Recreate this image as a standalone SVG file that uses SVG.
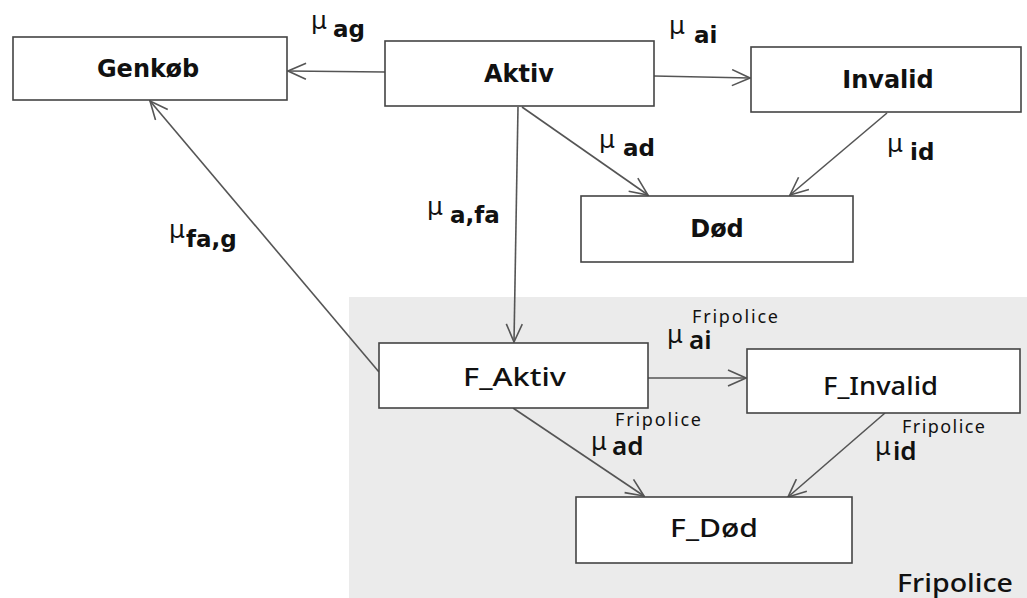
<svg xmlns="http://www.w3.org/2000/svg" width="1027" height="598" viewBox="0 0 1027 598">
<style>
.box{fill:#fff;stroke:#444;stroke-width:1.6}
.lbl{font-family:"DejaVu Sans",sans-serif;font-weight:bold;font-size:24px;fill:#111;text-anchor:middle}
.flbl{font-family:"Noto Sans",sans-serif;font-weight:500;font-size:25px;fill:#111}
.mu{font-family:"DejaVu Sans",sans-serif;font-size:25px;fill:#111}
.sub{font-family:"DejaVu Sans",sans-serif;font-weight:bold;font-size:23px;fill:#111}
.fmu{font-family:"Noto Sans",sans-serif;font-size:25px;fill:#111}
.fsub{font-family:"Noto Sans",sans-serif;font-weight:600;font-size:26px;fill:#111}
.fsup{font-family:"Noto Sans",sans-serif;font-size:18px;fill:#111}
.edge{stroke:#555;stroke-width:1.6;fill:none;marker-end:url(#arr)}
</style>
<defs>
<marker id="arr" markerUnits="userSpaceOnUse" viewBox="0 0 20 18" markerWidth="20" markerHeight="18" refX="19" refY="9" orient="auto">
<path d="M1,1 L19,9 L1,17" fill="none" stroke="#555" stroke-width="1.6"/>
</marker>
</defs>
<rect id="fripolice-region" x="349" y="297" width="678" height="301" fill="#ebebeb"/>
<text class="flbl" x="897" y="592" textLength="116" lengthAdjust="spacingAndGlyphs">Fripolice</text>

<g id="connectors">
<line class="edge" x1="385" y1="72" x2="288" y2="71"/>
<line class="edge" x1="654" y1="76" x2="750" y2="78"/>
<line class="edge" x1="522" y1="107" x2="648" y2="195"/>
<line class="edge" x1="887" y1="113" x2="790" y2="195"/>
<line class="edge" x1="518" y1="107" x2="514" y2="342"/>
<line class="edge" x1="379" y1="372" x2="150" y2="101"/>
<line class="edge" x1="648" y1="378" x2="746" y2="378"/>
<line class="edge" x1="513" y1="408" x2="644" y2="496"/>
<line class="edge" x1="885" y1="413" x2="788" y2="497"/>
</g>

<g id="labels">
<text x="311" y="29"><tspan class="mu">μ</tspan><tspan class="sub" x="333" y="37">ag</tspan></text>
<text x="669" y="34"><tspan class="mu">μ</tspan><tspan class="sub" x="694" y="43">ai</tspan></text>
<text x="599" y="148"><tspan class="mu">μ</tspan><tspan class="sub" x="623" y="156">ad</tspan></text>
<text x="887" y="152"><tspan class="mu">μ</tspan><tspan class="sub" x="910" y="160">id</tspan></text>
<text x="427" y="215"><tspan class="mu">μ</tspan><tspan class="sub" x="450" y="223">a,fa</tspan></text>
<text x="169" y="238"><tspan class="mu">μ</tspan><tspan class="sub" x="186" y="247">fa,g</tspan></text>
<text x="667" y="343"><tspan class="fmu">μ</tspan><tspan class="fsub" x="689" y="349">ai</tspan><tspan class="fsup" x="692" y="323" textLength="86">Fripolice</tspan></text>
<text x="591" y="450"><tspan class="fmu">μ</tspan><tspan class="fsub" x="612" y="455">ad</tspan><tspan class="fsup" x="615" y="426" textLength="86">Fripolice</tspan></text>
<text x="875" y="455"><tspan class="fmu">μ</tspan><tspan class="fsub" x="893" y="460">id</tspan><tspan class="fsup" x="902" y="433" textLength="83">Fripolice</tspan></text>
</g>

<g id="genkob"><rect class="box" x="13" y="37" width="274" height="63"/><text class="lbl" x="148" y="77">Genkøb</text></g>
<g id="aktiv"><rect class="box" x="385" y="41" width="269" height="65"/><text class="lbl" x="519" y="82">Aktiv</text></g>
<g id="invalid"><rect class="box" x="751" y="47" width="270" height="65"/><text class="lbl" x="888" y="88">Invalid</text></g>
<g id="dod"><rect class="box" x="581" y="196" width="272" height="66"/><text class="lbl" x="717" y="237">Død</text></g>
<g id="f_aktiv"><rect class="box" x="379" y="343" width="269" height="65"/><text class="flbl" x="463" y="386" textLength="103" lengthAdjust="spacingAndGlyphs">F_Aktiv</text></g>
<g id="f_invalid"><rect class="box" x="747" y="349" width="273" height="64"/><text class="flbl" x="823" y="395" textLength="115" lengthAdjust="spacingAndGlyphs">F_Invalid</text></g>
<g id="f_dod"><rect class="box" x="576" y="497" width="276" height="66"/><text class="flbl" x="670" y="537" textLength="88" lengthAdjust="spacingAndGlyphs">F_Død</text></g>
</svg>
